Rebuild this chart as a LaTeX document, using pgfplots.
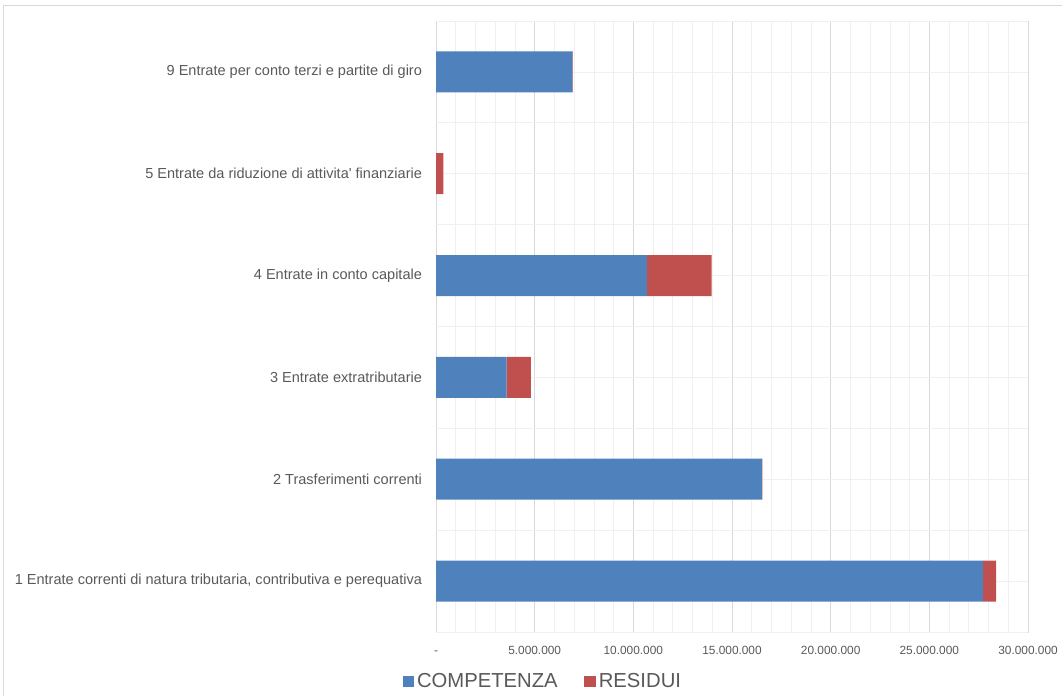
\documentclass[border=0pt]{standalone}
\usepackage{fontspec}
\setmainfont{Liberation Sans}[Ligatures=TeXOff]
\usepackage{pgfplots}
\pgfplotsset{compat=1.18}

\definecolor{comp}{HTML}{4F81BD}
\definecolor{resid}{HTML}{C0504D}
\definecolor{txt}{HTML}{595959}
\definecolor{gridmaj}{HTML}{D9D9D9}
\definecolor{gridmin}{HTML}{F0F0F0}

\begin{document}
\begin{tikzpicture}
  % page = 1062 x 695 px, 1px = 0.75pt
  \useasboundingbox (0,0) rectangle (796.5pt,521.25pt);
  \draw[gridmaj] (2.25pt,-5pt) rectangle (800pt,517.5pt);
  \begin{axis}[
      at={(327pt,47.25pt)}, anchor=south west,
      scale only axis, width=444pt, height=458.25pt,
      xbar stacked, bar width=30.75pt,
      xmin=0, xmax=30000000, ymin=0.5, ymax=6.5,
      axis line style={gridmaj},
      xtick={0,5000000,10000000,15000000,20000000,25000000,30000000},
      xticklabels={-,5.000.000,10.000.000,15.000.000,20.000.000,25.000.000,30.000.000},
      scaled x ticks=false,
      minor x tick num=4,
      ytick={1,2,3,4,5,6},
      yticklabels={
        1 Entrate correnti di natura tributaria{,} contributiva e perequativa,
        2 Trasferimenti correnti,
        3 Entrate extratributarie,
        4 Entrate in conto capitale,
        5 Entrate da riduzione di attivita' finanziarie,
        9 Entrate per conto terzi e partite di giro},
      extra y ticks={0.5,1.5,2.5,3.5,4.5,5.5,6.5},
      extra y tick labels={},
      extra y tick style={grid=major, major grid style={gridmaj, line width=0.6pt}},
      major tick length=0pt, minor tick length=0pt,
      xmajorgrids, xminorgrids, ymajorgrids,
      major grid style={gridmaj, line width=0.5pt},
      minor grid style={gridmin, line width=0.5pt},
      y grid style={gridmin},
      xticklabel style={font=\fontsize{8.9}{10}\selectfont, text=txt,
        text height=6.5pt, text depth=0pt, yshift=-6.5pt},
      yticklabel style={font=\fontsize{10.9}{13}\selectfont, text=txt, xshift=-7pt},
      legend columns=2,
      legend style={at={(0.181,0)}, anchor=center, yshift=-37pt, draw=none, fill=none,
        font=\fontsize{15.2}{17}\selectfont, text=txt,
        /tikz/every even column/.append style={column sep=18pt}},
      legend image code/.code={\fill[#1] (0pt,-4.3pt) rectangle (8.8pt,4.3pt);},
    ]
    \addplot[fill=comp, draw=none] coordinates {
      (27720000,1) (16510000,2) (3580000,3) (10690000,4) (0,5) (6910000,6)};
    \addplot[fill=resid, draw=none] coordinates {
      (660000,1) (30000,2) (1230000,3) (3280000,4) (370000,5) (20000,6)};
    \legend{COMPETENZA, RESIDUI}
  \end{axis}
\end{tikzpicture}
\end{document}
